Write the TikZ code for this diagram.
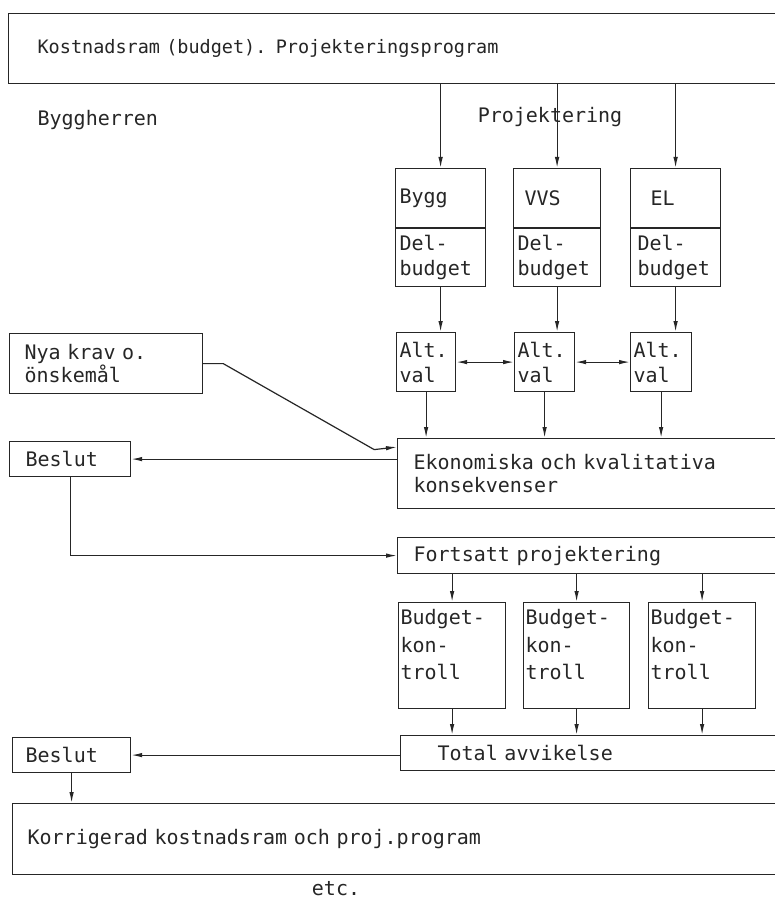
\documentclass[tikz,border=0pt]{standalone}
\usepackage{fontspec}
\setmonofont{DejaVu Sans Mono}
\usetikzlibrary{arrows.meta}

\tikzset{
    ruta/.style n args={3}{draw, anchor=north west, align=left,
        inner ysep=0pt, inner xsep=#3pt, minimum height=#2pt,
        text width=#1pt-2*#3pt},
    pil/.style={-{Latex[length=11pt,width=4.5pt]}},
    dubbelpil/.style={{Latex[length=11pt,width=4.5pt]}-{Latex[length=11pt,width=4.5pt]}},
}

\begin{document}
\begin{tikzpicture}[x=1pt,y=-1pt,line width=1.2pt,draw=black!85,text=black!85,
    font=\ttfamily\fontsize{20}{25}\selectfont]
    \useasboundingbox[fill=white] (0,0) rectangle (775,901);

    % byggherren och projektering
    \node[ruta={800}{70}{29}, font=\ttfamily\fontsize{18.5}{24}\selectfont] (top) at (8,13)
        {Kostnadsram (budget). Projekteringsprogram};
    \node[anchor=west, inner sep=0pt] (bh) at (37,120) {Byggherren};
    \node[inner sep=0pt] (proj) at (550,117) {Projektering};

    \node[ruta={90}{59}{4}] (bygg) at (395,168) {Bygg};
    \node[ruta={90}{58}{4}] (delbygg) at (bygg.south west) {Del-\\budget};
    \node[ruta={87}{59}{11}] (vvs) at (513,168) {VVS};
    \node[ruta={87}{58}{4}] (delvvs) at (vvs.south west) {Del-\\budget};
    \node[ruta={90}{59}{20}] (el) at (630,168) {EL};
    \node[ruta={90}{58}{7}] (delel) at (el.south west) {Del-\\budget};

    \node[ruta={59}{59}{3}] (alt1) at (396,332) {Alt.\\val};
    \node[ruta={60}{59}{3}] (alt2) at (514,332) {Alt.\\val};
    \node[ruta={61}{59}{3}] (alt3) at (630,332) {Alt.\\val};

    \node[ruta={193}{60}{15}, font=\ttfamily\fontsize{20}{23}\selectfont] (nya) at (9,333)
        {Nya krav o.\\önskemål};
    \node[ruta={121}{35}{16}] (beslut1) at (9,441) {Beslut};
    \node[ruta={400}{70}{16}, font=\ttfamily\fontsize{20}{23}\selectfont] (eko) at (397,438)
        {Ekonomiska och kvalitativa\\konsekvenser};
    \coordinate (ekoin) at (397,447);

    % uppfoljning
    \node[ruta={400}{36}{16}] (fort) at (397,537) {Fortsatt projektering};
    \node[ruta={107}{106}{2}, font=\ttfamily\fontsize{20}{27.5}\selectfont] (kontr1) at (398,602)
        {Budget-\\kon-\\troll\\[-6pt]\mbox{}};
    \node[ruta={106}{106}{2}, font=\ttfamily\fontsize{20}{27.5}\selectfont] (kontr2) at (523,602)
        {Budget-\\kon-\\troll\\[-6pt]\mbox{}};
    \node[ruta={107}{106}{2}, font=\ttfamily\fontsize{20}{27.5}\selectfont] (kontr3) at (648,602)
        {Budget-\\kon-\\troll\\[-6pt]\mbox{}};
    \node[ruta={400}{35}{37}] (total) at (400,735) {Total avvikelse};
    \node[ruta={118}{35}{13}] (beslut2) at (12,737) {Beslut};
    \node[ruta={790}{71}{15}] (korr) at (12,803) {Korrigerad kostnadsram och proj.program};
    \node[inner sep=0pt] (etc) at (336,889) {etc.};

    % pilar
    \foreach \n in {bygg,vvs,el} {
        \draw[pil] (\n.north |- top.south) -- (\n.north);
    }
    \foreach \a/\b in {delbygg/alt1,delvvs/alt2,delel/alt3} {
        \draw[pil] (\a.south) -- (\a.south |- \b.north);
    }
    \foreach \n in {alt1,alt2,alt3} {
        \draw[pil] (\n.south) -- (\n.south |- eko.north);
    }
    \draw[dubbelpil] (alt1.east) -- (alt2.west);
    \draw[dubbelpil] (alt2.east) -- (alt3.west);

    \draw[pil] (nya.east) -- ++(20,0) -- ++(151,86) -- (ekoin);
    \draw[pil] (beslut1.east -| eko.west) -- (beslut1.east);
    \draw[pil] (beslut1.south) |- (fort.west);

    \foreach \n in {kontr1,kontr2,kontr3} {
        \draw[pil] (\n.north |- fort.south) -- (\n.north);
        \draw[pil] (\n.south) -- (\n.south |- total.north);
    }
    \draw[pil] (beslut2.east -| total.west) -- (beslut2.east);
    \draw[pil] (beslut2.south) -- (beslut2.south |- korr.north);
\end{tikzpicture}
\end{document}
